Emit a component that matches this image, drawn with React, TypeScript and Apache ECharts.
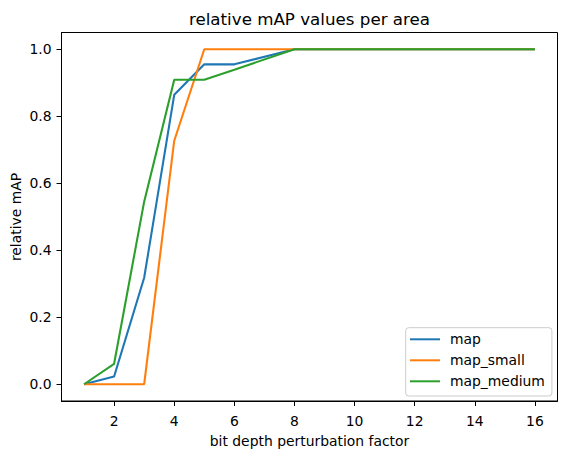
import React, { useEffect, useRef } from "react";
import * as echarts from "echarts";

const xValues = [1, 2, 3, 4, 5, 6, 8, 16];
const mapValues = [0.0, 0.023, 0.318, 0.864, 0.955, 0.955, 1.0, 1.0];
const mapSmallValues = [0.0, 0.0, 0.0, 0.727, 1.0, 1.0, 1.0, 1.0];
const mapMediumValues = [0.0, 0.061, 0.545, 0.909, 0.909, 0.939, 1.0, 1.0];
const xTicks = [2, 4, 6, 8, 10, 12, 14, 16];
const yTicks = [0, 0.2, 0.4, 0.6, 0.8, 1.0];
const seriesNames = ["map", "map_small", "map_medium"];
const colors = ["#1f77b4", "#ff7f0e", "#2ca02c"];

const FONT = "DejaVu Sans";

export default function App() {
  const ref = useRef<HTMLDivElement>(null);
  useEffect(() => {
    document.body.style.margin = "0";
    const chart = echarts.init(ref.current!, null, { renderer: "svg" });
    const all = [mapValues, mapSmallValues, mapMediumValues];
    const gridLeft = 61.5, gridTop = 32.5, gridRight = 557.5, gridBottom = 401;
    chart.setOption({
      animation: false,
      backgroundColor: "#ffffff",
      textStyle: { fontFamily: FONT },
      grid: {
        left: gridLeft,
        top: gridTop,
        width: gridRight - gridLeft,
        height: gridBottom - gridTop,
        show: true,
        borderColor: "#000",
        borderWidth: 1,
        backgroundColor: "transparent",
        containLabel: false,
      },
      xAxis: {
        type: "value",
        min: 0.25,
        max: 16.75,
        axisLine: { show: true, onZero: false, lineStyle: { color: "#000", width: 1 } },
        axisTick: { show: true, length: 5, customValues: xTicks, lineStyle: { color: "#000" } },
        axisLabel: {
          customValues: xTicks,
          color: "#000",
          fontSize: 13.9,
          fontFamily: FONT,
          margin: 13,
          formatter: (v: number) => String(v),
        },
        splitLine: { show: false },
      },
      yAxis: {
        type: "value",
        min: -0.05,
        max: 1.05,
        axisLine: { show: true, onZero: false, lineStyle: { color: "#000", width: 1 } },
        axisTick: { show: true, length: 5, customValues: yTicks, lineStyle: { color: "#000" } },
        axisLabel: {
          customValues: yTicks,
          color: "#000",
          fontSize: 13.9,
          fontFamily: FONT,
          margin: 10,
          formatter: (v: number) => v.toFixed(1),
        },
        splitLine: { show: false },
      },
      legend: {
        orient: "vertical",
        left: 405.7,
        top: 327.7,
        data: seriesNames,
        icon: "rect",
        itemWidth: 30,
        itemHeight: 2,
        itemGap: 5,
        padding: [3.6, 7, 6.7, 4.3],
        backgroundColor: "rgba(255,255,255,0.8)",
        borderColor: "#cccccc",
        borderWidth: 1,
        borderRadius: 3,
        textStyle: {
          color: "#000",
          fontSize: 13.9,
          fontFamily: FONT,
          lineHeight: 16,
          padding: [0, 0, 0, 5],
        },
      },
      graphic: [
        {
          type: "text",
          x: (gridLeft + gridRight) / 2,
          y: 18.5,
          style: {
            text: "relative mAP values per area",
            fontSize: 16.7,
            fontFamily: FONT,
            fill: "#000",
            align: "center",
            verticalAlign: "middle",
          },
        },
        {
          type: "text",
          x: (gridLeft + gridRight) / 2,
          y: 441,
          style: {
            text: "bit depth perturbation factor",
            fontSize: 13.9,
            fontFamily: FONT,
            fill: "#000",
            align: "center",
            verticalAlign: "middle",
          },
        },
        {
          type: "text",
          x: 16,
          y: 217,
          rotation: Math.PI / 2,
          style: {
            text: "relative mAP",
            fontSize: 13.9,
            fontFamily: FONT,
            fill: "#000",
            align: "center",
            verticalAlign: "middle",
          },
        },
      ],
      series: all.map((vals, i) => ({
        name: seriesNames[i],
        type: "line",
        data: xValues.map((x, j) => [x, vals[j]]),
        showSymbol: false,
        symbol: "none",
        lineStyle: { color: colors[i], width: 2.1 },
        itemStyle: { color: colors[i] },
        z: 2 + i,
      })),
    });
    return () => chart.dispose();
  }, []);
  return <div ref={ref} style={{ width: 567, height: 455 }} />;
}
